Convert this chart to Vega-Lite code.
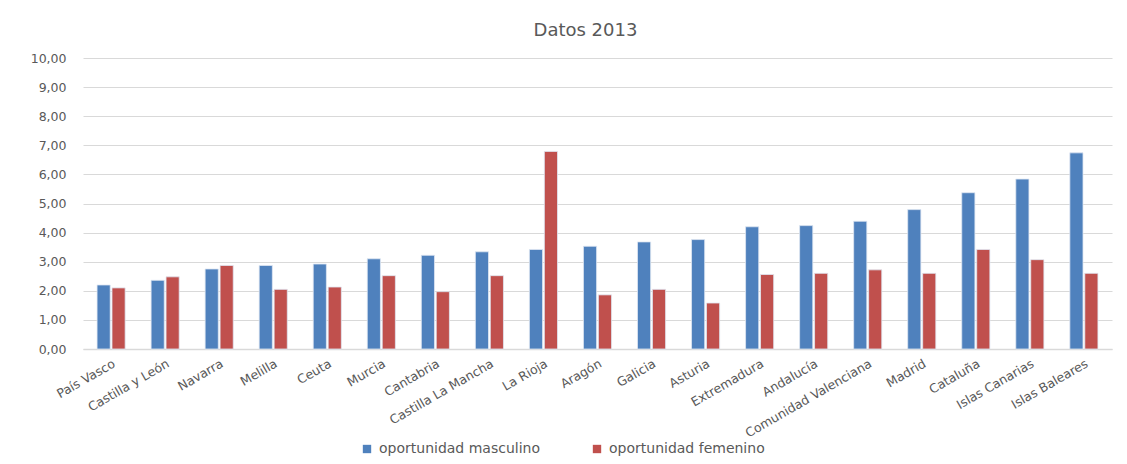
{
  "$schema": "https://vega.github.io/schema/vega-lite/v6.json",
  "width": 1029,
  "height": 291,
  "autosize": "none",
  "padding": {"left": 83, "top": 58, "right": 15, "bottom": 115},
  "background": "white",
  "title": {"text": "Datos 2013", "fontSize": 18, "font": "DejaVu Sans", "fontWeight": "normal", "color": "#595959", "anchor": "middle", "offset": 12, "dx": -12},
  "config": {"view": {"stroke": null}},
  "data": {"values": [
    {"region": "País Vasco", "serie": "oportunidad masculino", "valor": 2.20},
    {"region": "País Vasco", "serie": "oportunidad femenino", "valor": 2.10},
    {"region": "Castilla y León", "serie": "oportunidad masculino", "valor": 2.36},
    {"region": "Castilla y León", "serie": "oportunidad femenino", "valor": 2.48},
    {"region": "Navarra", "serie": "oportunidad masculino", "valor": 2.75},
    {"region": "Navarra", "serie": "oportunidad femenino", "valor": 2.87},
    {"region": "Melilla", "serie": "oportunidad masculino", "valor": 2.87},
    {"region": "Melilla", "serie": "oportunidad femenino", "valor": 2.05},
    {"region": "Ceuta", "serie": "oportunidad masculino", "valor": 2.92},
    {"region": "Ceuta", "serie": "oportunidad femenino", "valor": 2.13},
    {"region": "Murcia", "serie": "oportunidad masculino", "valor": 3.10},
    {"region": "Murcia", "serie": "oportunidad femenino", "valor": 2.52},
    {"region": "Cantabria", "serie": "oportunidad masculino", "valor": 3.22},
    {"region": "Cantabria", "serie": "oportunidad femenino", "valor": 1.97},
    {"region": "Castilla La Mancha", "serie": "oportunidad masculino", "valor": 3.34},
    {"region": "Castilla La Mancha", "serie": "oportunidad femenino", "valor": 2.52},
    {"region": "La Rioja", "serie": "oportunidad masculino", "valor": 3.42},
    {"region": "La Rioja", "serie": "oportunidad femenino", "valor": 6.79},
    {"region": "Aragón", "serie": "oportunidad masculino", "valor": 3.53},
    {"region": "Aragón", "serie": "oportunidad femenino", "valor": 1.86},
    {"region": "Galicia", "serie": "oportunidad masculino", "valor": 3.68},
    {"region": "Galicia", "serie": "oportunidad femenino", "valor": 2.05},
    {"region": "Asturia", "serie": "oportunidad masculino", "valor": 3.76},
    {"region": "Asturia", "serie": "oportunidad femenino", "valor": 1.58},
    {"region": "Extremadura", "serie": "oportunidad masculino", "valor": 4.20},
    {"region": "Extremadura", "serie": "oportunidad femenino", "valor": 2.56},
    {"region": "Andalucía", "serie": "oportunidad masculino", "valor": 4.24},
    {"region": "Andalucía", "serie": "oportunidad femenino", "valor": 2.60},
    {"region": "Comunidad Valenciana", "serie": "oportunidad masculino", "valor": 4.39},
    {"region": "Comunidad Valenciana", "serie": "oportunidad femenino", "valor": 2.72},
    {"region": "Madrid", "serie": "oportunidad masculino", "valor": 4.79},
    {"region": "Madrid", "serie": "oportunidad femenino", "valor": 2.60},
    {"region": "Cataluña", "serie": "oportunidad masculino", "valor": 5.37},
    {"region": "Cataluña", "serie": "oportunidad femenino", "valor": 3.42},
    {"region": "Islas Canarias", "serie": "oportunidad masculino", "valor": 5.84},
    {"region": "Islas Canarias", "serie": "oportunidad femenino", "valor": 3.07},
    {"region": "Islas Baleares", "serie": "oportunidad masculino", "valor": 6.74},
    {"region": "Islas Baleares", "serie": "oportunidad femenino", "valor": 2.60}
  ]},
  "mark": {"type": "bar", "stroke": "#dfe7f2", "strokeWidth": 0.8},
  "encoding": {
    "x": {
      "field": "region", "type": "nominal", "sort": null, "title": null,
      "scale": {"paddingInner": 0.48, "paddingOuter": 0.26},
      "axis": {"labelAngle": -30, "labelFont": "DejaVu Sans", "labelFontSize": 12.5, "labelColor": "#595959", "ticks": false, "domainColor": "#D9D9D9", "domainWidth": 1.5, "labelPadding": 8}
    },
    "xOffset": {"field": "serie", "type": "nominal", "sort": ["oportunidad masculino", "oportunidad femenino"], "scale": {"paddingInner": 0.12}},
    "y": {
      "field": "valor", "type": "quantitative", "title": null,
      "scale": {"domain": [0, 10], "nice": false},
      "axis": {"values": [0,1,2,3,4,5,6,7,8,9,10], "labelExpr": "replace(format(datum.value, '.2f'), '.', ',')", "labelFont": "DejaVu Sans", "labelFontSize": 12.5, "labelColor": "#595959", "ticks": false, "domain": false, "gridColor": "#D9D9D9", "gridWidth": 1.2, "labelPadding": 17}
    },
    "color": {
      "field": "serie", "type": "nominal",
      "sort": ["oportunidad masculino", "oportunidad femenino"],
      "scale": {"domain": ["oportunidad masculino", "oportunidad femenino"], "range": ["#4F81BD", "#C0504D"]},
      "legend": {"title": null, "orient": "none", "direction": "horizontal", "legendX": 277, "legendY": 384, "symbolType": "square", "symbolSize": 70, "symbolStrokeWidth": 0, "labelFont": "DejaVu Sans", "labelFontSize": 14, "labelColor": "#595959", "labelLimit": 400, "columnPadding": 50, "labelOffset": 5}
    }
  }
}
